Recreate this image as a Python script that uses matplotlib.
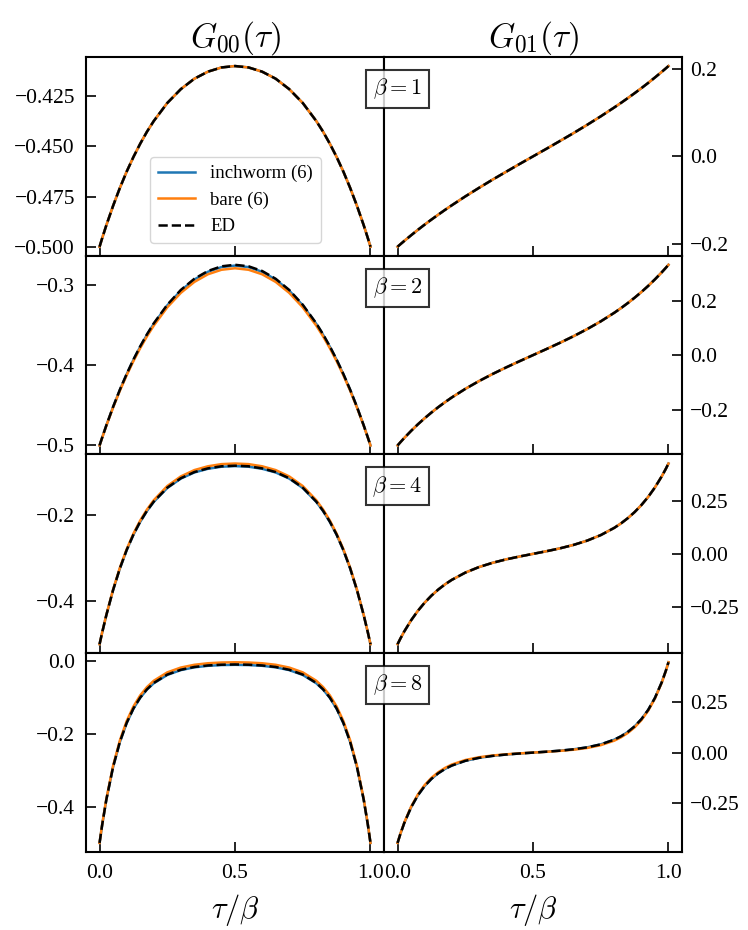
import matplotlib
matplotlib.use("Agg")
import matplotlib.pyplot as plt
from matplotlib.ticker import MultipleLocator

plt.rcParams['font.family'] = ['Liberation Serif', 'DejaVu Serif']
plt.rcParams['mathtext.fontset'] = 'cm'

# imaginary time grid in units of beta
tau = [0.0, 0.01, 0.025, 0.05, 0.075, 0.1, 0.125, 0.15, 0.175, 0.2, 0.25, 0.3, 0.35, 0.4, 0.45, 0.5,
       0.55, 0.6, 0.65, 0.7, 0.75, 0.8, 0.825, 0.85, 0.875, 0.9, 0.925, 0.95, 0.975, 0.99, 1.0]

betas = [1, 2, 4, 8]

# beta = 1
g00_b1_ed = [-0.5000, -0.4956, -0.4893, -0.4796, -0.4707, -0.4626, -0.4553, -0.4487, -0.4427, -0.4374,
             -0.4284, -0.4215, -0.4163, -0.4128, -0.4107, -0.4100, -0.4107, -0.4128, -0.4163, -0.4215,
             -0.4284, -0.4374, -0.4427, -0.4487, -0.4553, -0.4626, -0.4707, -0.4796, -0.4893, -0.4956, -0.5000]
g00_b1_inch = g00_b1_ed
g00_b1_bare = g00_b1_ed
g01_b1_ed = [-0.2060, -0.2006, -0.1927, -0.1799, -0.1675, -0.1556, -0.1441, -0.1330, -0.1221, -0.1116,
             -0.0913, -0.0720, -0.0533, -0.0353, -0.0175, 0.0, 0.0175, 0.0353, 0.0533, 0.0720,
             0.0913, 0.1116, 0.1221, 0.1330, 0.1441, 0.1556, 0.1675, 0.1799, 0.1927, 0.2006, 0.2060]
g01_b1_inch = g01_b1_ed
g01_b1_bare = g01_b1_ed

# beta = 2
g00_b2_ed = [-0.5000, -0.4898, -0.4750, -0.4519, -0.4306, -0.4111, -0.3931, -0.3767, -0.3617, -0.3481,
             -0.3249, -0.3065, -0.2926, -0.2829, -0.2771, -0.2752, -0.2771, -0.2829, -0.2926, -0.3065,
             -0.3249, -0.3481, -0.3617, -0.3767, -0.3931, -0.4111, -0.4306, -0.4519, -0.4750, -0.4898, -0.5000]
g00_b2_inch = [-0.5000, -0.4898, -0.4751, -0.4521, -0.4309, -0.4115, -0.3935, -0.3772, -0.3623, -0.3487,
               -0.3257, -0.3073, -0.2935, -0.2839, -0.2781, -0.2762, -0.2781, -0.2839, -0.2935, -0.3073,
               -0.3257, -0.3487, -0.3623, -0.3772, -0.3935, -0.4115, -0.4309, -0.4521, -0.4751, -0.4898, -0.5000]
g00_b2_bare = [-0.5000, -0.4900, -0.4754, -0.4527, -0.4318, -0.4126, -0.3950, -0.3789, -0.3642, -0.3509,
               -0.3281, -0.3101, -0.2965, -0.2870, -0.2814, -0.2795, -0.2814, -0.2870, -0.2965, -0.3101,
               -0.3281, -0.3509, -0.3642, -0.3789, -0.3950, -0.4126, -0.4318, -0.4527, -0.4754, -0.4900, -0.5000]
g01_b2_ed = [-0.3320, -0.3206, -0.3042, -0.2784, -0.2543, -0.2319, -0.2110, -0.1914, -0.1730, -0.1557,
             -0.1241, -0.0957, -0.0697, -0.0455, -0.0225, 0.0, 0.0225, 0.0455, 0.0697, 0.0957,
             0.1241, 0.1557, 0.1730, 0.1914, 0.2110, 0.2319, 0.2543, 0.2784, 0.3042, 0.3206, 0.3320]
g01_b2_inch = g01_b2_ed
g01_b2_bare = g01_b2_ed

# beta = 4
g00_b4_ed = [-0.5000, -0.4719, -0.4325, -0.3741, -0.3240, -0.2815, -0.2457, -0.2157, -0.1904, -0.1692,
             -0.1368, -0.1149, -0.1006, -0.0920, -0.0872, -0.0858, -0.0872, -0.0920, -0.1006, -0.1149,
             -0.1368, -0.1692, -0.1904, -0.2157, -0.2457, -0.2815, -0.3240, -0.3741, -0.4325, -0.4719, -0.5000]
g00_b4_inch = [-0.5000, -0.4719, -0.4326, -0.3743, -0.3243, -0.2819, -0.2461, -0.2162, -0.1910, -0.1698,
               -0.1376, -0.1157, -0.1015, -0.0930, -0.0882, -0.0868, -0.0882, -0.0930, -0.1015, -0.1157,
               -0.1376, -0.1698, -0.1910, -0.2162, -0.2461, -0.2819, -0.3243, -0.3743, -0.4326, -0.4719, -0.5000]
g00_b4_bare = [-0.5000, -0.4717, -0.4320, -0.3731, -0.3226, -0.2797, -0.2435, -0.2131, -0.1875, -0.1660,
               -0.1330, -0.1107, -0.0960, -0.0872, -0.0822, -0.0808, -0.0822, -0.0872, -0.0960, -0.1107,
               -0.1330, -0.1660, -0.1875, -0.2131, -0.2435, -0.2797, -0.3226, -0.3731, -0.4320, -0.4717, -0.5000]
g01_b4_ed = [-0.4280, -0.4024, -0.3670, -0.3147, -0.2698, -0.2312, -0.1979, -0.1693, -0.1446, -0.1233,
             -0.0889, -0.0628, -0.0426, -0.0263, -0.0126, 0.0, 0.0126, 0.0263, 0.0426, 0.0628,
             0.0889, 0.1233, 0.1446, 0.1693, 0.1979, 0.2312, 0.2698, 0.3147, 0.3670, 0.4024, 0.4280]
g01_b4_inch = g01_b4_ed
g01_b4_bare = g01_b4_ed

# beta = 8
g00_b8_ed = [-0.5000, -0.4485, -0.3812, -0.2910, -0.2225, -0.1705, -0.1309, -0.1009, -0.0781, -0.0608,
             -0.0377, -0.0245, -0.0169, -0.0127, -0.0107, -0.0100, -0.0107, -0.0127, -0.0169, -0.0245,
             -0.0377, -0.0608, -0.0781, -0.1009, -0.1309, -0.1705, -0.2225, -0.2910, -0.3812, -0.4485, -0.5000]
g00_b8_inch = [-0.5000, -0.4486, -0.3814, -0.2913, -0.2229, -0.1710, -0.1315, -0.1016, -0.0789, -0.0617,
               -0.0387, -0.0255, -0.0179, -0.0137, -0.0117, -0.0110, -0.0117, -0.0137, -0.0179, -0.0255,
               -0.0387, -0.0617, -0.0789, -0.1016, -0.1315, -0.1710, -0.2229, -0.2913, -0.3814, -0.4486, -0.5000]
g00_b8_bare = [-0.5000, -0.4475, -0.3792, -0.2880, -0.2185, -0.1655, -0.1254, -0.0949, -0.0721, -0.0548,
               -0.0317, -0.0185, -0.0109, -0.0067, -0.0047, -0.0040, -0.0047, -0.0067, -0.0109, -0.0185,
               -0.0317, -0.0548, -0.0721, -0.0949, -0.1254, -0.1655, -0.2185, -0.2880, -0.3792, -0.4475, -0.5000]
g01_b8_ed = [-0.4480, -0.4049, -0.3482, -0.2712, -0.2117, -0.1658, -0.1302, -0.1026, -0.0811, -0.0643,
             -0.0408, -0.0261, -0.0164, -0.0096, -0.0045, 0.0, 0.0045, 0.0096, 0.0164, 0.0261,
             0.0408, 0.0643, 0.0811, 0.1026, 0.1302, 0.1658, 0.2117, 0.2712, 0.3482, 0.4049, 0.4480]
g01_b8_inch = g01_b8_ed
g01_b8_bare = [-0.4480, -0.4039, -0.3462, -0.2682, -0.2077, -0.1608, -0.1252, -0.0976, -0.0761, -0.0593,
               -0.0368, -0.0231, -0.0144, -0.0086, -0.0040, 0.0, 0.0040, 0.0086, 0.0144, 0.0231,
               0.0368, 0.0593, 0.0761, 0.0976, 0.1252, 0.1608, 0.2077, 0.2682, 0.3462, 0.4039, 0.4480]

panels = [
    [(g00_b1_inch, g00_b1_bare, g00_b1_ed), (g01_b1_inch, g01_b1_bare, g01_b1_ed)],
    [(g00_b2_inch, g00_b2_bare, g00_b2_ed), (g01_b2_inch, g01_b2_bare, g01_b2_ed)],
    [(g00_b4_inch, g00_b4_bare, g00_b4_ed), (g01_b4_inch, g01_b4_bare, g01_b4_ed)],
    [(g00_b8_inch, g00_b8_bare, g00_b8_ed), (g01_b8_inch, g01_b8_bare, g01_b8_ed)],
]

# y tick spacing per row, (left, right)
ytick_steps = [(0.025, 0.2), (0.1, 0.2), (0.2, 0.25), (0.2, 0.25)]

fig, axes = plt.subplots(4, 2, figsize=(7.48, 9.30), dpi=100, sharex=True)
fig.subplots_adjust(left=0.115, right=0.9118, top=0.9387, bottom=0.0839, hspace=0, wspace=0)

for i, b in enumerate(betas):
    for j in range(2):
        ax = axes[i, j]
        inch, bare, ed = panels[i][j]
        ax.plot(tau, inch, color='C0', lw=1.8, label='inchworm (6)')
        ax.plot(tau, bare, color='C1', lw=1.8, label='bare (6)')
        ax.plot(tau, ed, 'k--', lw=1.8, label='ED')
        ax.xaxis.set_major_locator(MultipleLocator(0.5))
        ax.yaxis.set_major_locator(MultipleLocator(ytick_steps[i][j]))
        ax.tick_params(direction='in', length=7, width=1.2, labelsize=15.5)
        ax.tick_params(axis='x', pad=9)
        ax.tick_params(axis='y', pad=8 if j == 0 else 6)
        for sp in ax.spines.values():
            sp.set_linewidth(1.5)
        if j == 1:
            ax.yaxis.tick_right()
    # beta label sits on the column boundary
    axes[i, 1].text(0.045, 0.84, r'$\beta = %d$' % b, transform=axes[i, 1].transAxes,
                    ha='center', va='center', fontsize=16, zorder=10,
                    bbox=dict(boxstyle='square,pad=0.3', facecolor='white', edgecolor='black',
                              alpha=0.8, linewidth=1.5))

axes[0, 0].set_title(r'$G_{00}(\tau)$', fontsize=24, pad=6)
axes[0, 1].set_title(r'$G_{01}(\tau)$', fontsize=24, pad=6)
axes[3, 0].set_xlabel(r'$\tau/\beta$', fontsize=22, labelpad=6)
axes[3, 1].set_xlabel(r'$\tau/\beta$', fontsize=22, labelpad=6)

axes[0, 0].legend(loc='center', bbox_to_anchor=(0.502, 0.28), fontsize=13.5)

plt.savefig('out.png', dpi=100)
